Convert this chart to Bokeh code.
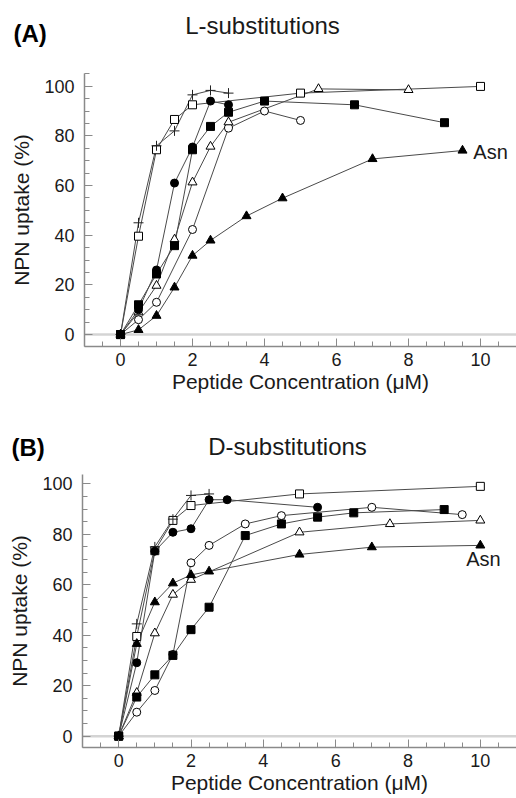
from bokeh.plotting import figure
from bokeh.models import Range1d, Span, Label, SingleIntervalTicker
from bokeh.layouts import column
from bokeh.embed import file_html
from bokeh.resources import INLINE
from bokeh.core.properties import value

# ---------------- Panel A: L-substitutions ----------------
a_osq_x = [0, 0.5, 1, 1.5, 2, 5, 10]
a_osq_y = [0, 39.6, 74.4, 86.6, 92.5, 97.2, 99.9]
a_plus_x = [0, 0.5, 1, 1.5, 2, 2.5, 3]
a_plus_y = [0, 45, 76, 82, 96.5, 98.3, 97.2]
a_fci_x = [0, 0.5, 1, 1.5, 2, 2.5, 3]
a_fci_y = [0, 10, 26, 61, 75.5, 94, 92.5]
a_fsq_x = [0, 0.5, 1, 1.5, 2, 2.5, 3, 4, 6.5, 9]
a_fsq_y = [0, 12, 24.4, 35.8, 74.4, 83.8, 89.5, 94, 92.5, 85.3]
a_otr_x = [0, 0.5, 1, 1.5, 2, 2.5, 3, 5.5, 8]
a_otr_y = [0, 9, 19.7, 38.3, 61.3, 75.7, 85.5, 98.9, 98.5]
a_oci_x = [0, 0.5, 1, 2, 3, 4, 5]
a_oci_y = [0, 6, 13, 42.3, 83.1, 90, 86.2]
a_ftr_x = [0, 0.5, 1, 1.5, 2, 2.5, 3.5, 4.5, 7, 9.5]
a_ftr_y = [0, 1.9, 7.6, 19, 31.8, 37.9, 47.7, 54.9, 70.7, 74.1]

# ---------------- Panel B: D-substitutions ----------------
b_osq_x = [0, 0.5, 1, 1.5, 2, 5, 10]
b_osq_y = [0, 39.5, 73.5, 85.5, 91.4, 96, 99]
b_plus_x = [0, 0.5, 1, 1.5, 2, 2.5]
b_plus_y = [0, 44.5, 75, 86, 95.4, 96]
b_fci_x = [0, 0.5, 1, 1.5, 2, 2.5, 3, 5.5]
b_fci_y = [0, 29.1, 73.3, 80.8, 82.2, 93.7, 93.7, 90.7]
b_fsq_x = [0, 0.5, 1, 1.5, 2, 2.5, 3.5, 4.5, 5.5, 6.5, 9]
b_fsq_y = [0, 15.5, 24.3, 32, 42.2, 51.1, 79.5, 84.1, 86.8, 88.5, 89.8]
b_oci_x = [0, 0.5, 1, 1.5, 2, 2.5, 3.5, 4.5, 7, 9.5]
b_oci_y = [0, 9.5, 18.1, 32.4, 68.7, 75.6, 84.1, 87.4, 90.7, 87.8]
b_otr_x = [0, 0.5, 1, 1.5, 2, 5, 7.5, 10]
b_otr_y = [0, 17.2, 40.8, 56.1, 62, 80.8, 84.1, 85.5]
b_ftr_x = [0, 0.5, 1, 1.5, 2, 2.5, 5, 7, 10]
b_ftr_y = [0, 36.6, 53.1, 60.6, 63.9, 65.3, 72, 74.9, 75.6]

x_label = "Peptide Concentration (μM)"
y_label = "NPN uptake (%)"
asn_label = "Asn"

FONT = "Liberation Sans"
TXT = "#1a1a1a"
AX = "#8a8a8a"
LINE = "#4a4a4a"
W = 516


def make_heading(height, letter, letter_pos, title, title_pos):
    h = figure(width=W, height=height,
               x_range=Range1d(0, W), y_range=Range1d(height, 0),
               output_backend="svg", toolbar_location=None,
               x_axis_location=None, y_axis_location=None,
               min_border=0, min_border_left=0, min_border_right=0,
               min_border_top=0, min_border_bottom=0)
    h.outline_line_color = None
    h.grid.visible = False
    h.text(x=[letter_pos[0]], y=[letter_pos[1]], text=[letter],
           text_font=value(FONT), text_font_size="24px",
           text_font_style="bold", text_color="black",
           text_baseline="middle", text_align="left")
    h.text(x=[title_pos[0]], y=[title_pos[1]], text=[title],
           text_font=value(FONT), text_font_size="24px",
           text_color=TXT, text_baseline="middle", text_align="center")
    return h


def make_panel(series, height, top, bottom, left, y_lo, y_hi, asn_xy):
    p = figure(width=W, height=height,
               x_range=Range1d(-1, 11), y_range=Range1d(y_lo, y_hi),
               output_backend="svg", toolbar_location=None,
               min_border_left=left, min_border_right=0,
               min_border_top=top, min_border_bottom=bottom)
    p.outline_line_color = None
    p.grid.visible = False

    p.xaxis.ticker = SingleIntervalTicker(interval=2, num_minor_ticks=4)
    p.yaxis.ticker = SingleIntervalTicker(interval=20, num_minor_ticks=4)
    for ax in (p.xaxis[0], p.yaxis[0]):
        ax.axis_line_color = AX
        ax.axis_line_width = 1.5
        ax.major_tick_line_color = AX
        ax.minor_tick_line_color = AX
        ax.major_tick_in = 8
        ax.major_tick_out = 0
        ax.minor_tick_in = 5
        ax.minor_tick_out = 0
        ax.major_label_text_font = FONT
        ax.major_label_text_font_size = "18px"
        ax.major_label_text_color = TXT
        ax.axis_label_text_font = FONT
        ax.axis_label_text_font_size = "21px"
        ax.axis_label_text_font_style = "normal"
        ax.axis_label_text_color = TXT
    p.xaxis.axis_label = x_label
    p.yaxis.axis_label = y_label
    p.xaxis.major_label_standoff = 6
    p.xaxis.axis_label_standoff = 1
    p.yaxis.major_label_standoff = 10
    p.yaxis.axis_label_standoff = 8

    p.add_layout(Span(location=0, dimension="width",
                      line_color="#d4d4d4", line_width=2.5, level="underlay"))

    for xs, ys, _, _ in series:
        p.line(xs, ys, line_color=LINE, line_width=1)
    for xs, ys, mk, filled in series:
        if mk == "cross":
            p.scatter(xs, ys, marker="cross", size=10,
                      line_color="#222222", line_width=1)
        else:
            sz = 8 if mk in ("square", "circle") else 9
            p.scatter(xs, ys, marker=mk, size=sz,
                      fill_color="black" if filled else "white",
                      line_color="black", line_width=1)

    p.add_layout(Label(x=asn_xy[0], y=asn_xy[1], text=asn_label,
                       text_font=FONT, text_font_size="20px",
                       text_color=TXT,
                       text_baseline="middle", text_align="left"))
    return p


series_a = [
    (a_osq_x, a_osq_y, "square", False),
    (a_plus_x, a_plus_y, "cross", False),
    (a_oci_x, a_oci_y, "circle", False),
    (a_otr_x, a_otr_y, "triangle", False),
    (a_ftr_x, a_ftr_y, "triangle", True),
    (a_fsq_x, a_fsq_y, "square", True),
    (a_fci_x, a_fci_y, "circle", True),
]
series_b = [
    (b_osq_x, b_osq_y, "square", False),
    (b_plus_x, b_plus_y, "cross", False),
    (b_oci_x, b_oci_y, "circle", False),
    (b_otr_x, b_otr_y, "triangle", False),
    (b_ftr_x, b_ftr_y, "triangle", True),
    (b_fsq_x, b_fsq_y, "square", True),
    (b_fci_x, b_fci_y, "circle", True),
]

ha = make_heading(60, "(A)", (13, 32.5), "L-substitutions", (262, 25))
pa = make_panel(series_a, 340, 13, 54, 84, -4.8, 105.1, (9.8, 73.3))
hb = make_heading(68, "(B)", (11, 47), "D-substitutions", (287, 46))
pb = make_panel(series_b, 330, 6, 51, 82, -4.5, 103.7, (9.61, 70.4))

layout = column(column(ha), column(pa), column(hb), column(pb), spacing=0)
open("out.html", "w").write(file_html(layout, INLINE))
